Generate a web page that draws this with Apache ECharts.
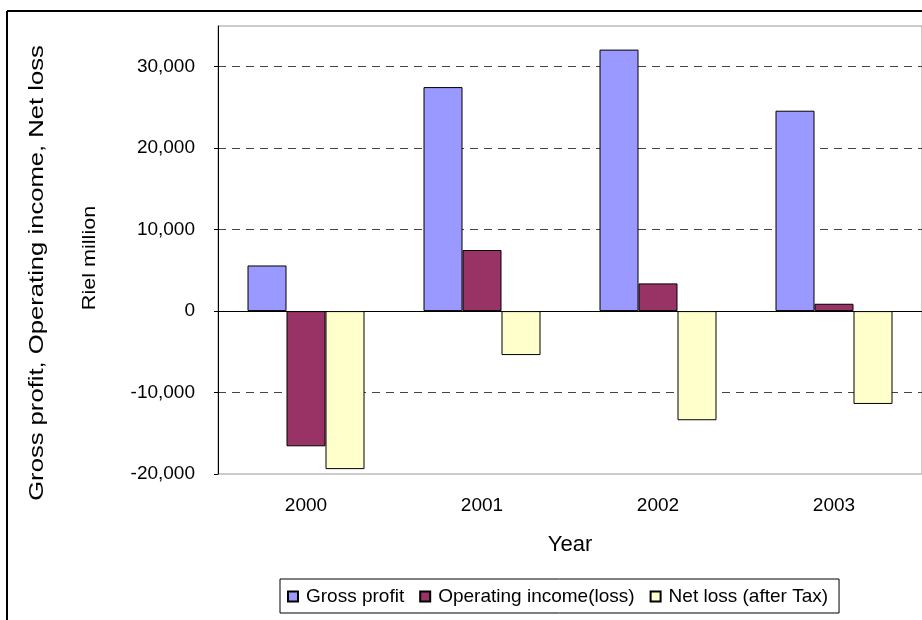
<!DOCTYPE html>
<html>
<head>
<meta charset="utf-8">
<script src="https://cdn.jsdelivr.net/npm/echarts@6/dist/echarts.min.js"></script>
<style>
  html, body { margin: 0; padding: 0; background: #fff; }
  #chart { width: 922px; height: 620px; }
</style>
</head>
<body>
<div id="chart"></div>
<script>
// data (Riel million)
var years = ["2000", "2001", "2002", "2003"];
var grossProfit = [5600, 27500, 32100, 24600];
var operatingIncome = [-16600, 7500, 3400, 900];
var netLoss = [-19400, -5400, -13400, -11400];
var seriesNames = ["Gross profit", "Operating income(loss)", "Net loss (after Tax)"];

var FONT = "'Liberation Sans', Arial, sans-serif";

var chart = echarts.init(document.getElementById("chart"));

function barSeries(name, data, color) {
  return {
    name: name,
    type: "bar",
    xAxisIndex: 0,
    data: data,
    barWidth: 39,
    barGap: "0%",
    itemStyle: {
      color: color,
      borderColor: "#000",
      borderWidth: 1
    }
  };
}

chart.setOption({
  animation: false,
  backgroundColor: "#fff",
  textStyle: { fontFamily: FONT, color: "#000" },
  grid: {
    left: 218,
    top: 26,
    right: -1,
    bottom: 146,
    show: true,
    borderColor: "#999",
    borderWidth: 1
  },
  legend: {
    data: seriesNames,
    left: 280,
    top: 579,
    orient: "horizontal",
    itemWidth: 10,
    itemHeight: 10,
    itemGap: 15,
    padding: [8, 11, 7, 7],
    borderColor: "#000",
    borderWidth: 1,
    icon: "rect",
    textStyle: { fontFamily: FONT, fontSize: 19, color: "#000", padding: [0, 0, 0, 3] }
  },
  xAxis: [
    {
      // zero line with the small category ticks
      type: "category",
      data: years,
      axisLine: { onZero: true, lineStyle: { color: "#000", width: 1 } },
      axisTick: { inside: true, length: 5, lineStyle: { color: "#000" } },
      axisLabel: { show: false },
      splitLine: { show: false }
    },
    {
      // bottom labels and title
      type: "category",
      data: years,
      position: "bottom",
      axisLine: { show: false, onZero: false },
      axisTick: { show: false },
      axisLabel: { fontSize: 19, color: "#000", margin: 22, fontFamily: FONT },
      name: "Year",
      nameLocation: "middle",
      nameGap: 60,
      nameTextStyle: { fontSize: 22, color: "#000", fontFamily: FONT }
    }
  ],
  yAxis: {
    type: "value",
    min: -20000,
    max: 35000,
    interval: 10000,
    axisLine: { show: true, lineStyle: { color: "#000", width: 1 } },
    axisTick: { show: true, length: 4, lineStyle: { color: "#000" } },
    axisLabel: {
      fontSize: 19,
      color: "#000",
      margin: 23,
      fontFamily: FONT,
      showMaxLabel: false,
      formatter: function (v) { return v.toLocaleString("en-US"); }
    },
    splitLine: {
      show: true,
      showMinLine: false,
      showMaxLine: false,
      lineStyle: { color: "#444", type: [8, 6], width: 1 }
    }
  },
  graphic: [
    {
      type: "line",
      shape: { x1: 7, y1: 11, x2: 922, y2: 11 },
      style: { stroke: "#000", lineWidth: 2 },
      silent: true
    },
    {
      type: "line",
      shape: { x1: 7, y1: 11, x2: 7, y2: 620 },
      style: { stroke: "#000", lineWidth: 2 },
      silent: true
    },
    {
      type: "text",
      x: 37,
      y: 273,
      rotation: Math.PI / 2,
      scaleX: 1.22,
      style: {
        text: "Gross profit, Operating income, Net loss",
        font: "21px " + FONT,
        fill: "#000",
        align: "center",
        verticalAlign: "middle"
      }
    },
    {
      type: "text",
      x: 90,
      y: 258,
      rotation: Math.PI / 2,
      scaleX: 1.2,
      style: {
        text: "Riel million",
        font: "18px " + FONT,
        fill: "#000",
        align: "center",
        verticalAlign: "middle"
      }
    }
  ],
  series: [
    barSeries(seriesNames[0], grossProfit, "#9999FF"),
    barSeries(seriesNames[1], operatingIncome, "#993366"),
    barSeries(seriesNames[2], netLoss, "#FFFFCC")
  ]
});
</script>
</body>
</html>
